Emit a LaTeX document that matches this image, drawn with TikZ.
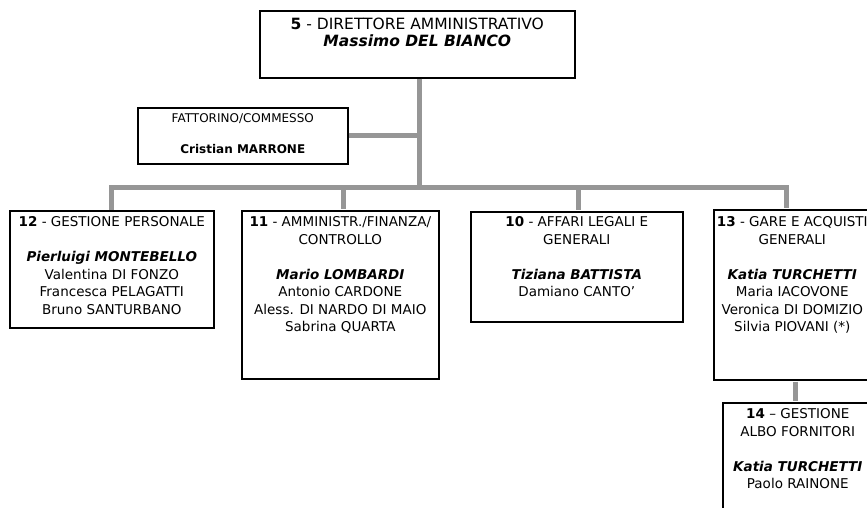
\documentclass[tikz,border=0pt]{standalone}
\usepackage{fontspec}
\setmainfont{DejaVu Sans}
\definecolor{grigio}{RGB}{150,150,150}
\newcommand{\casella}[4]{\parbox[t][#2][t]{#1}{\centering\rule{0pt}{#3}#4}}
\newcommand{\corpo}{\fontsize{13.5}{17.5}\selectfont}
\newcommand{\capo}[1]{\textbf{\textit{#1}}}

\begin{document}
\begin{tikzpicture}[x=1pt, y=-1pt,
    ufficio/.style={draw, line width=1.6pt, inner sep=0pt, anchor=north west},
    ramo/.style={draw=grigio, line width=5pt}]
    \useasboundingbox (0,0) rectangle (867,507);

    \node[ufficio] (direttore) at (259,10) {\casella{315pt}{67pt}{19pt}{\fontsize{15.5}{17}\selectfont
        \textbf{5} - DIRETTORE AMMINISTRATIVO\\ \capo{Massimo DEL BIANCO}}};
    \node[ufficio] (fattorino) at (137,107) {\casella{210pt}{56pt}{15pt}{\fontsize{12}{15.5}\selectfont
        FATTORINO/COMMESSO\\~\\ \textbf{Cristian MARRONE}}};

    \node[ufficio] (uff12) at (9,210) {\casella{204pt}{117pt}{16pt}{\corpo
        \textbf{12} - GESTIONE PERSONALE\\~\\ \capo{Pierluigi MONTEBELLO}\\ Valentina DI FONZO\\
        Francesca PELAGATTI\\ Bruno SANTURBANO}};
    \node[ufficio] (uff11) at (241,210) {\casella{197pt}{168pt}{16pt}{\corpo
        \textbf{11} - AMMINISTR./FINANZA/\\ CONTROLLO\\~\\ \capo{Mario LOMBARDI}\\ Antonio CARDONE\\
        Aless. DI NARDO DI MAIO\\ Sabrina QUARTA}};
    \node[ufficio] (uff10) at (470,211) {\casella{212pt}{110pt}{15pt}{\corpo
        \textbf{10} - AFFARI LEGALI E\\ GENERALI\\~\\ \capo{Tiziana BATTISTA}\\ Damiano CANTO’}};
    \node[ufficio] (uff13) at (713,209) {\casella{157pt}{170pt}{17pt}{\corpo
        \textbf{13} - GARE E ACQUISTI\\ GENERALI\\~\\ \capo{Katia TURCHETTI}\\ Maria IACOVONE\\
        Veronica DI DOMIZIO\\ Silvia PIOVANI (*)}};
    \node[ufficio] (uff14) at (722,402) {\casella{150pt}{113pt}{16pt}{\corpo
        \textbf{14} – GESTIONE\\ ALBO FORNITORI\\~\\ \capo{Katia TURCHETTI}\\ Paolo RAINONE}};

    \coordinate (tronco) at (419,187);
    \coordinate (b12) at (111,187);
    \coordinate (b11) at (343,187);
    \coordinate (b10) at (578,187);
    \coordinate (b13) at (786,187);
    \coordinate (c14) at (795,0);

    \draw[ramo] (tronco |- direttore.south) -- (tronco);
    \draw[ramo] (fattorino.east) -- (fattorino.east -| tronco);
    \draw[ramo, shorten >=1pt] (b12 |- uff12.north) -- (b12) -- (b13) -- (b13 |- uff13.north);
    \draw[ramo, shorten >=1pt] (b11) -- (b11 |- uff11.north);
    \draw[ramo, shorten >=1pt] (b10) -- (b10 |- uff10.north);
    \draw[ramo, shorten >=1pt, shorten <=1pt] (c14 |- uff13.south) -- (c14 |- uff14.north);
\end{tikzpicture}
\end{document}
